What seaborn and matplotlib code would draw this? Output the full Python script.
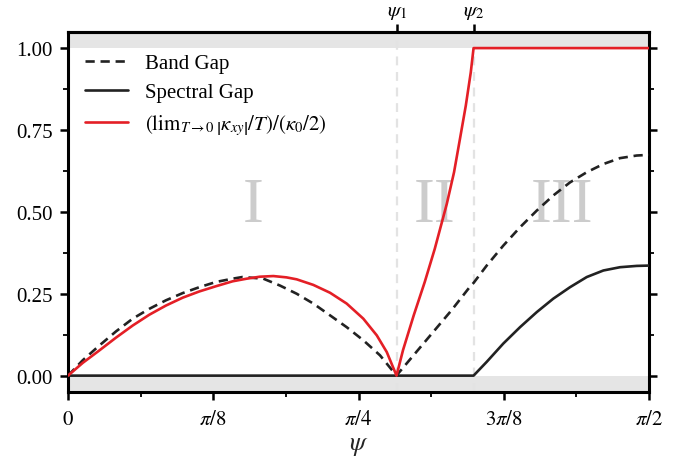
import numpy as np
import matplotlib
matplotlib.use("Agg")
import matplotlib.pyplot as plt
import seaborn as sns
from matplotlib.ticker import MultipleLocator

# ---- data (psi in units of pi) ----
psi1 = 0.2827
psi2 = 0.3490

band_x = [0.0, 0.0127, 0.0270, 0.0413, 0.0557, 0.0700, 0.0843, 0.0987, 0.1130,
          0.1274, 0.1417, 0.1500, 0.1681, 0.1824, 0.1968, 0.2111, 0.2255,
          0.2398, 0.2541, 0.2685, 0.2827,
          0.2840, 0.3299, 0.3460, 0.3490, 0.3603, 0.3746, 0.3890, 0.4034, 0.4176,
          0.4320, 0.4464, 0.4607, 0.4750, 0.4894, 0.5000]
band_y = [0.0, 0.047, 0.092, 0.135, 0.174, 0.204, 0.230, 0.252, 0.270,
          0.286, 0.296, 0.301, 0.296, 0.275, 0.250, 0.220, 0.184,
          0.148, 0.108, 0.062, 0.0,
          0.006, 0.199, 0.272, 0.283, 0.336, 0.397, 0.453, 0.504, 0.550,
          0.590, 0.621, 0.646, 0.664, 0.672, 0.674]

spec_x = [0.0, 0.3490, 0.3603, 0.3746, 0.3890, 0.4034, 0.4176, 0.4320,
          0.4464, 0.4607, 0.4750, 0.4894, 0.5000]
spec_y = [0.0, 0.0, 0.042, 0.098, 0.148, 0.194, 0.235, 0.270,
          0.301, 0.321, 0.331, 0.335, 0.336]

hall_x = [0.0, 0.0127, 0.0270, 0.0413, 0.0557, 0.0700, 0.0843, 0.0987, 0.1130,
          0.1274, 0.1417, 0.1538, 0.1650, 0.1767, 0.1880, 0.1968, 0.2111,
          0.2255, 0.2398, 0.2541, 0.2657, 0.2743, 0.2827,
          0.2883, 0.2975, 0.3070, 0.3156, 0.3233, 0.3260, 0.3322, 0.3373,
          0.3423, 0.3466, 0.3490, 0.5000]
hall_y = [0.0, 0.039, 0.077, 0.116, 0.153, 0.186, 0.214, 0.238, 0.257,
          0.273, 0.288, 0.296, 0.302, 0.304, 0.300, 0.294, 0.277,
          0.253, 0.220, 0.174, 0.123, 0.072, 0.0,
          0.078, 0.184, 0.286, 0.387, 0.489, 0.525, 0.621, 0.723,
          0.824, 0.926, 1.0, 1.0]

xtick_vals = [0.0, 0.125, 0.25, 0.375, 0.5]
xtick_labels = [r"$0$", r"$\pi/8$", r"$\pi/4$", r"$3\pi/8$", r"$\pi/2$"]
ytick_vals = [0.0, 0.25, 0.5, 0.75, 1.0]
regions = ["I", "II", "III"]
region_x = [0.1592, 0.3158, 0.4249]

sns.set_style("ticks")
plt.rcParams["font.family"] = ["Liberation Serif", "DejaVu Serif"]
plt.rcParams["mathtext.fontset"] = "stix"

fig = plt.figure(figsize=(6.89, 4.64), dpi=100)
ax = fig.add_axes([0.0987, 0.153, 0.8433, 0.7765])

ax.axhspan(1.0, 1.06, color="#e5e5e5", lw=0, zorder=0)
ax.axhspan(-0.06, 0.0, color="#e5e5e5", lw=0, zorder=0)
for p in (psi1, psi2):
    ax.axvline(p, color="#e3e3e3", lw=1.6, ls=(0, (4, 3)), zorder=1)

for lab, xx in zip(regions, region_x):
    ax.text(xx, 0.518, lab, fontsize=45, color="#cccccc", ha="center",
            va="center", zorder=1, family="Liberation Serif")

sns.lineplot(x=band_x, y=band_y, ax=ax, estimator=None, sort=False,
             color="#222222", lw=1.9, ls=(0, (3.5, 2.2)), label="Band Gap", zorder=3)
sns.lineplot(x=spec_x, y=spec_y, ax=ax, estimator=None, sort=False,
             color="#222222", lw=1.9, label="Spectral Gap", zorder=3)
sns.lineplot(x=hall_x, y=hall_y, ax=ax, estimator=None, sort=False,
             color="#e41f26", lw=1.9,
             label=r"$\left(\mathrm{lim}_{T\to 0}\,\left|\kappa_{xy}\right|/T\right)/(\kappa_0/2)$",
             zorder=4)

ax.set_xlim(0, 0.5)
ax.set_ylim(-0.05, 1.05)
ax.set_xticks(xtick_vals)
ax.set_xticklabels(xtick_labels)
ax.set_yticks(ytick_vals)
ax.set_yticklabels([f"{v:.2f}" for v in ytick_vals])
ax.xaxis.set_minor_locator(MultipleLocator(0.0625))
ax.yaxis.set_minor_locator(MultipleLocator(0.125))
ax.tick_params(which="major", direction="out", length=6, width=1.8, labelsize=15,
               right=True, top=False, color="black", labelcolor="black", pad=5)
ax.tick_params(which="minor", direction="out", length=3.5, width=1.3,
               right=True, top=False, color="black")
ax.tick_params(axis="x", which="major", pad=7)
ax.set_xlabel(r"$\psi$", fontsize=19, labelpad=4)
ax.set_ylabel("")

for s in ax.spines.values():
    s.set_linewidth(2.2)
    s.set_color("black")
    s.set_visible(True)

sec = ax.secondary_xaxis("top")
sec.set_xticks([psi1, psi2])
sec.set_xticklabels([r"$\psi_1$", r"$\psi_2$"])
sec.tick_params(direction="out", length=6, width=1.8, labelsize=15, pad=2,
                color="black", labelcolor="black")
sec.spines["top"].set_linewidth(2.2)
sec.spines["top"].set_color("black")

leg = ax.legend(loc="upper left", bbox_to_anchor=(0.0, 0.985), frameon=False,
                fontsize=15, handlelength=2.1, handletextpad=0.8,
                labelspacing=0.45, borderaxespad=0.4)
for t in leg.get_texts():
    t.set_color("black")

fig.savefig("out.png", dpi=100)
